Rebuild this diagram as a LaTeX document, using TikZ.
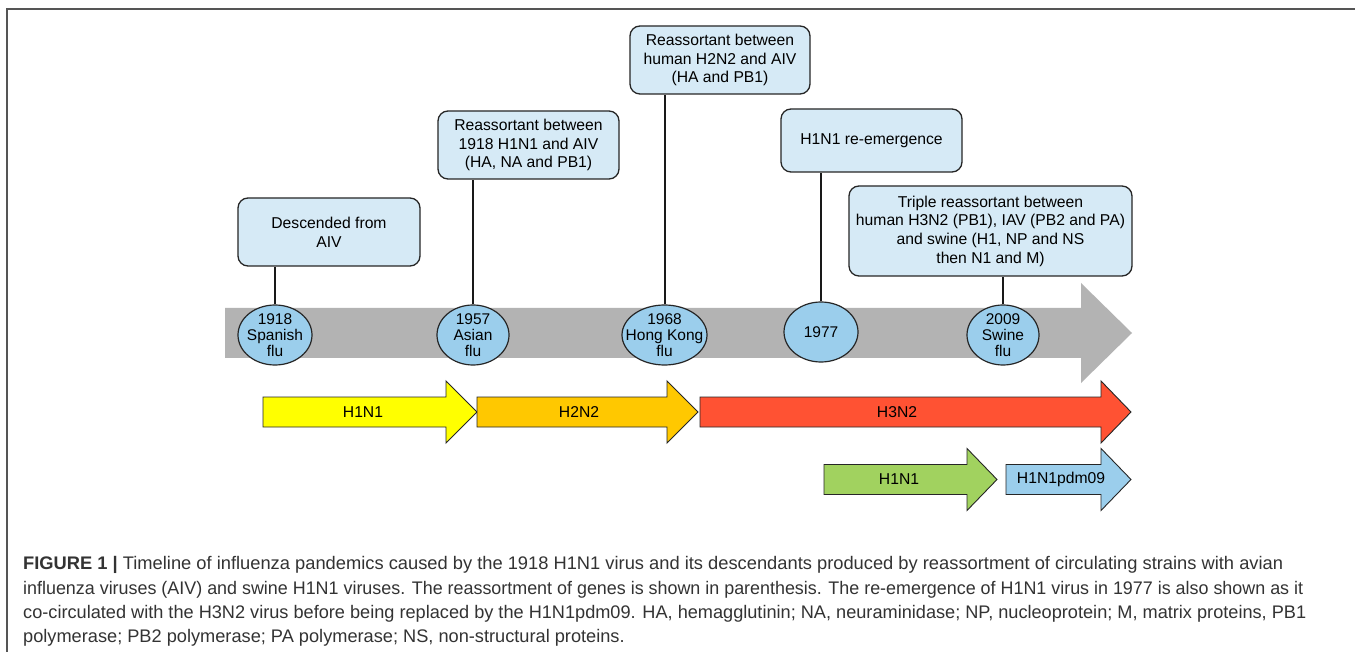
\documentclass[tikz,border=0pt]{standalone}
\usepackage{fontspec}
\setmainfont{Liberation Sans}
\usetikzlibrary{shapes.geometric}
\definecolor{boxfill}{RGB}{214,234,246}
\definecolor{circfill}{RGB}{155,206,236}
\definecolor{bandgray}{RGB}{179,179,179}
\definecolor{ayellow}{RGB}{255,255,0}
\definecolor{aorange}{RGB}{255,200,0}
\definecolor{ared}{RGB}{255,82,51}
\definecolor{agreen}{RGB}{161,210,95}
\definecolor{ablue}{RGB}{155,206,236}
\definecolor{framegray}{RGB}{85,85,85}
\definecolor{captxt}{RGB}{51,51,51}
\tikzset{
  infobox/.style={draw=black!85, line width=1.3pt, fill=boxfill, rounded corners=10pt,
    align=center, inner sep=0pt, font=\fontsize{15.7}{18.7}\selectfont},
  yearc/.style={ellipse, draw=black!85, line width=1.2pt, fill=circfill, inner sep=0pt,
    minimum height=60pt},
  yeartxt/.style={align=center, inner sep=0pt, font=\fontsize{15.5}{16}\selectfont},
  stem/.style={line width=2pt, black!90},
  strainarrow/.style={draw=black!85, line width=0.9pt},
  strainlbl/.style={inner sep=0pt, font=\fontsize{15.7}{18}\selectfont},
  capline/.style={anchor=base west, inner sep=0pt, text=captxt, font=\fontsize{18.2}{24}\selectfont}
}
\newcommand\flarrow[8]{%
  \draw[strainarrow, fill=#6] (#2,#5-15) -- (#3,#5-15) -- (#3,#5-31) -- (#4,#5)
    -- (#3,#5+31) -- (#3,#5+15) -- (#2,#5+15) -- cycle;
  \node[strainlbl] (#1) at (#8,#5) {#7};}
\begin{document}
\begin{tikzpicture}[x=1pt,y=-1pt]
\useasboundingbox (0,0) rectangle (1355,652);
\fill[white] (0,0) rectangle (1355,652);
% frame
\draw[framegray, line width=1.5pt] (7,652) -- (7,9) -- (1355,9);

% timeline band
\fill[bandgray] (225,308) -- (1081,308) -- (1081,283) -- (1132,333) -- (1081,383)
  -- (1081,358) -- (225,358) -- cycle;

% info boxes
\node[infobox, minimum width=182pt, minimum height=68pt] (b1918) at (329,232) {Descended from\\AIV};
\node[infobox, minimum width=181pt, minimum height=68pt] (b1957) at (528.5,145) {Reassortant between\\1918 H1N1 and AIV\\(HA, NA and PB1)};
\node[infobox, minimum width=180pt, minimum height=68pt] (b1968) at (720,60) {Reassortant between\\human H2N2 and AIV\\(HA and PB1)};
\node[infobox, minimum width=181pt, minimum height=63pt] (b1977) at (871.5,140.5) {H1N1 re-emergence};
\node[infobox, minimum width=283pt, minimum height=90pt] (b2009) at (990.5,231) {Triple reassortant between\\human H3N2 (PB1), IAV (PB2 and PA)\\and swine (H1, NP and NS\\then N1 and M)};

% year circles
\node[yearc, minimum width=74pt] (c1918) at (275,335) {};
\node[yearc, minimum width=72pt] (c1957) at (473,335) {};
\node[yearc, minimum width=85pt] (c1968) at (664.5,335) {};
\node[yearc, minimum width=74pt] (c1977) at (821,332) {};
\node[yearc, minimum width=72pt] (c2009) at (1003,335) {};
\node[yeartxt] (t1918) at (c1918) {1918\\Spanish\\flu};
\node[yeartxt] (t1957) at (c1957) {1957\\Asian\\flu};
\node[yeartxt] (t1968) at (c1968) {1968\\Hong Kong\\flu};
\node[yeartxt] (t1977) at (c1977) {1977};
\node[yeartxt] (t2009) at (c2009) {2009\\Swine\\flu};

% stems
\draw[stem] (c1918.north) -- (c1918.north |- b1918.south);
\draw[stem] (c1957.north) -- (c1957.north |- b1957.south);
\draw[stem] (c1968.north) -- (c1968.north |- b1968.south);
\draw[stem] (c1977.north) -- (c1977.north |- b1977.south);
\draw[stem] (c2009.north) -- (c2009.north |- b2009.south);

% strain arrows
\flarrow{s1}{263}{446}{477}{412}{ayellow}{H1N1}{363}
\flarrow{s2}{477}{667}{698}{412}{aorange}{H2N2}{579}
\flarrow{s3}{700}{1101}{1131}{412}{ared}{H3N2}{897}
\flarrow{s4}{824}{967}{997}{479.5}{agreen}{H1N1}{899}
\flarrow{s5}{1006}{1101}{1131}{479.5}{ablue}{H1N1pdm09}{1061}

% caption
\node[capline] (cap1) at (23,569.3) {\resizebox{1260pt}{\height}{\textbf{FIGURE 1 |} Timeline of influenza pandemics caused by the 1918 H1N1 virus and its descendants produced by reassortment of circulating strains with avian}};
\node[capline] (cap2) at (23,594) {\resizebox{1280pt}{\height}{influenza viruses (AIV) and swine H1N1 viruses. The reassortment of genes is shown in parenthesis. The re-emergence of H1N1 virus in 1977 is also shown as it}};
\node[capline] (cap3) at (23,618.3) {\resizebox{1283pt}{\height}{co-circulated with the H3N2 virus before being replaced by the H1N1pdm09. HA, hemagglutinin; NA, neuraminidase; NP, nucleoprotein; M, matrix proteins, PB1}};
\node[capline] (cap4) at (23,642.7) {polymerase; PB2 polymerase; PA polymerase; NS, non-structural proteins.};
\end{tikzpicture}
\end{document}
